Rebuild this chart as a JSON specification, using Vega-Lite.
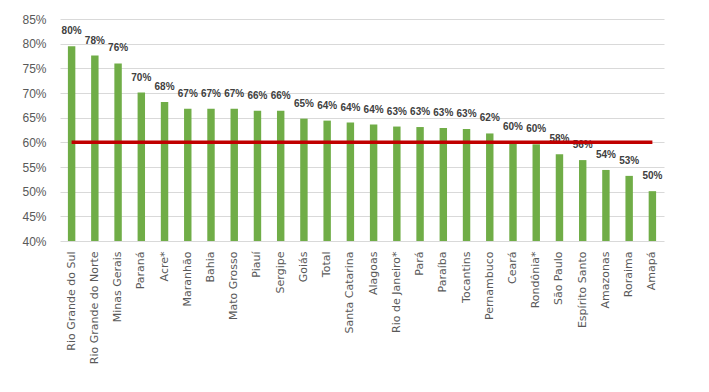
{
  "$schema": "https://vega.github.io/schema/vega-lite/v6.json",
  "width": 629,
  "height": 222,
  "autosize": {"type": "none"},
  "padding": {"left": 60, "top": 19, "right": 20, "bottom": 151},
  "background": "white",
  "config": {
    "view": {"stroke": null},
    "font": "Liberation Sans"
  },
  "data": {
    "values": [
      {"estado": "Rio Grande do Sul", "valor": 0.795, "meta": 0.6},
      {"estado": "Rio Grande do Norte", "valor": 0.776, "meta": 0.6},
      {"estado": "Minas Gerais", "valor": 0.760, "meta": 0.6},
      {"estado": "Paraná", "valor": 0.701, "meta": 0.6},
      {"estado": "Acre*", "valor": 0.682, "meta": 0.6},
      {"estado": "Maranhão", "valor": 0.668, "meta": 0.6},
      {"estado": "Bahia", "valor": 0.668, "meta": 0.6},
      {"estado": "Mato Grosso", "valor": 0.668, "meta": 0.6},
      {"estado": "Piauí", "valor": 0.664, "meta": 0.6},
      {"estado": "Sergipe", "valor": 0.664, "meta": 0.6},
      {"estado": "Goiás", "valor": 0.648, "meta": 0.6},
      {"estado": "Total", "valor": 0.644, "meta": 0.6},
      {"estado": "Santa Catarina", "valor": 0.640, "meta": 0.6},
      {"estado": "Alagoas", "valor": 0.636, "meta": 0.6},
      {"estado": "Rio de Janeiro*", "valor": 0.632, "meta": 0.6},
      {"estado": "Pará", "valor": 0.631, "meta": 0.6},
      {"estado": "Paraíba", "valor": 0.629, "meta": 0.6},
      {"estado": "Tocantins", "valor": 0.627, "meta": 0.6},
      {"estado": "Pernambuco", "valor": 0.618, "meta": 0.6},
      {"estado": "Ceará", "valor": 0.601, "meta": 0.6},
      {"estado": "Rondônia*", "valor": 0.596, "meta": 0.6},
      {"estado": "São Paulo", "valor": 0.576, "meta": 0.6},
      {"estado": "Espírito Santo", "valor": 0.564, "meta": 0.6},
      {"estado": "Amazonas", "valor": 0.544, "meta": 0.6},
      {"estado": "Roraima", "valor": 0.532, "meta": 0.6},
      {"estado": "Amapá", "valor": 0.501, "meta": 0.6}
    ]
  },
  "encoding": {
    "x": {
      "field": "estado",
      "type": "nominal",
      "sort": null,
      "scale": {"paddingInner": 0, "paddingOuter": 0, "range": [0, 604]},
      "axis": {
        "title": null,
        "labelAngle": -90,
        "labelFont": "DejaVu Sans",
        "labelFontSize": 11,
        "labelColor": "#595959",
        "labelPadding": 10,
        "labelOverlap": false,
        "ticks": false,
        "domain": false
      }
    },
    "y": {
      "field": "valor",
      "type": "quantitative",
      "scale": {"domain": [0.4, 0.85], "nice": false, "zero": false},
      "axis": {
        "title": null,
        "format": ".0%",
        "values": [0.4, 0.45, 0.5, 0.55, 0.6, 0.65, 0.7, 0.75, 0.8, 0.85],
        "labelFontSize": 12,
        "labelColor": "#595959",
        "labelPadding": 14,
        "labelOverlap": false,
        "labelFlush": false,
        "ticks": false,
        "domain": false,
        "gridColor": "#d9d9d9",
        "gridWidth": 1
      }
    }
  },
  "layer": [
    {
      "mark": {"type": "bar", "color": "#70AD47", "width": {"band": 0.32}},
      "encoding": {
        "y2": {"datum": 0.4}
      }
    },
    {
      "mark": {"type": "text", "fontSize": 10, "fontWeight": "bold", "color": "#404040", "baseline": "bottom", "dy": -10},
      "encoding": {
        "text": {"field": "valor", "type": "quantitative", "format": ".0%"}
      }
    },
    {
      "mark": {"type": "line", "color": "#C00000", "strokeWidth": 3.5},
      "encoding": {
        "y": {
          "field": "meta",
          "type": "quantitative",
          "axis": {
            "title": null,
            "format": ".0%",
            "values": [0.4, 0.45, 0.5, 0.55, 0.6, 0.65, 0.7, 0.75, 0.8, 0.85],
            "labelFontSize": 12,
            "labelColor": "#595959",
            "labelPadding": 14,
            "labelOverlap": false,
            "labelFlush": false,
            "ticks": false,
            "domain": false,
            "gridColor": "#d9d9d9",
            "gridWidth": 1
          }
        }
      }
    }
  ]
}
